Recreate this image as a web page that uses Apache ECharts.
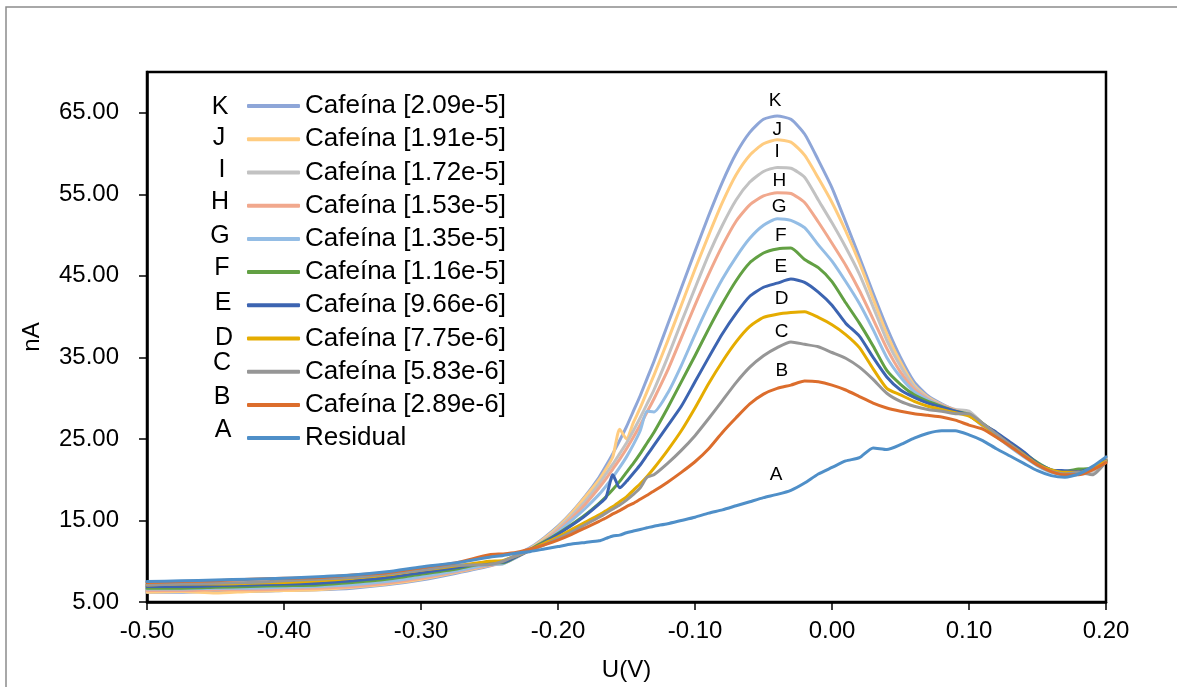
<!DOCTYPE html>
<html>
<head>
<meta charset="utf-8">
<script src="https://cdn.jsdelivr.net/npm/echarts@6/dist/echarts.min.js"></script>
<style>
html,body{margin:0;padding:0;background:#fff;}
#chart{width:1177px;height:687px;}
</style>
</head>
<body>
<div id="chart"></div>
<script>
// Shared potential axis (V)
const voltages = [-0.5,-0.475,-0.45,-0.425,-0.4,-0.375,-0.35,-0.325,-0.3,-0.275,-0.25,
  -0.24,-0.23,-0.22,-0.21,-0.2,-0.19,-0.18,-0.17,
  -0.165,-0.16,-0.155,-0.15,-0.145,-0.14,-0.135,-0.13,
  -0.12,-0.11,-0.1,-0.09,-0.08,-0.07,-0.06,-0.05,-0.04,-0.03,-0.02,-0.01,
  0,0.01,0.02,0.03,0.04,0.05,0.06,0.07,0.08,0.09,0.1,0.11,0.12,0.13,0.14,0.15,0.16,0.17,0.18,0.19,0.2];

const seriesNames = ['Cafeína [2.09e-5]','Cafeína [1.91e-5]','Cafeína [1.72e-5]','Cafeína [1.53e-5]','Cafeína [1.35e-5]','Cafeína [1.16e-5]','Cafeína [9.66e-6]','Cafeína [7.75e-6]','Cafeína [5.83e-6]','Cafeína [2.89e-6]','Residual'];
const seriesLetters = ['K','J','I','H','G','F','E','D','C','B','A'];

const valK = [6.2,6.2,6.3,6.3,6.4,6.5,6.7,7.1,7.7,8.5,9.4,
  10.0,10.8,11.7,12.9,14.3,16.0,18.0,20.3,
  21.7,23.2,24.8,26.5,28.4,30.3,32.4,34.5,
  39.0,43.5,48.0,52.4,56.5,60.0,62.6,64.2,64.6,64.2,62.4,59.2,
  55.8,51.6,47.3,42.9,38.7,35.0,32.0,30.3,29.3,28.5,27.9,26.6,25.3,24.1,22.9,21.8,21.0,20.7,20.8,21.4,22.4];
const valJ = [6.2,6.3,6.1,6.3,6.4,6.5,6.8,7.2,7.8,8.6,9.5,
  9.9,10.7,11.6,12.8,14.2,15.9,17.9,20.0,
  21.3,22.8,26.2,25.0,27.0,28.8,30.8,32.8,
  37.0,41.4,45.8,50.0,54.0,57.4,59.8,61.2,61.7,61.4,59.8,57.0,
  54.0,50.5,46.6,42.2,37.9,34.4,31.6,30.1,29.2,28.5,27.9,26.7,25.5,24.2,23.0,21.9,21.0,20.6,20.8,21.5,22.5];
const valI = [6.5,6.5,6.6,6.6,6.7,6.8,7.0,7.4,8.0,8.7,9.6,
  9.8,10.6,11.5,12.6,14.0,15.6,17.4,19.5,
  20.7,21.9,23.2,24.5,26.0,27.6,29.3,31.0,
  35.0,39.3,43.5,47.6,51.2,54.3,56.5,57.8,58.3,58.2,57.1,54.3,
  51.5,48.5,45.2,41.2,37.1,33.9,31.4,30.0,29.2,28.6,28.4,26.9,25.6,24.2,23.0,21.9,21.1,20.8,20.7,20.9,22.3];
const valH = [6.4,6.4,6.5,6.5,6.6,6.7,6.9,7.3,7.9,8.7,9.5,
  9.7,10.5,11.4,12.5,13.8,15.3,17.0,19.0,
  20.1,21.3,22.5,23.8,25.2,26.7,28.3,29.9,
  33.4,37.4,41.4,45.2,48.7,51.7,53.7,54.8,55.2,55.1,54.0,51.6,
  49.0,46.3,43.2,39.7,36.1,33.2,31.1,29.9,29.1,28.5,27.9,26.7,25.4,24.2,23.0,21.8,21.0,20.7,20.8,21.4,22.4];
const valG = [6.6,6.6,6.7,6.7,6.8,6.9,7.1,7.5,8.1,8.8,9.6,
  9.7,10.5,11.4,12.4,13.6,15.0,16.5,18.2,
  19.2,20.3,21.5,22.8,24.3,26.0,28.4,28.3,
  30.6,34.0,37.8,41.4,44.6,47.3,49.6,51.2,52.0,51.8,50.9,48.8,
  46.8,44.3,41.6,38.4,35.0,32.6,30.8,29.8,29.0,28.4,27.9,26.6,25.3,24.0,22.8,21.7,20.9,20.6,20.8,21.4,22.4];
const valF = [6.7,6.7,6.8,6.9,7.0,7.1,7.4,7.8,8.4,9.0,9.8,
  9.8,10.6,11.5,12.4,13.4,14.5,15.7,17.1,
  17.9,18.8,19.8,20.9,22.0,23.2,24.5,25.8,
  28.8,32.0,35.2,38.5,41.6,44.4,46.6,47.8,48.3,48.4,47.0,46.0,
  44.3,41.7,39.2,36.4,33.4,31.7,30.4,29.6,29.0,28.4,28.0,26.9,25.7,24.5,23.3,22.1,21.2,21.0,21.3,21.4,22.3];
const valE = [6.9,6.9,7.0,7.1,7.2,7.3,7.6,8.0,8.6,9.2,9.9,
  9.9,10.6,11.4,12.3,13.3,14.4,15.6,17.0,
  17.8,20.6,19.0,19.8,20.8,21.8,23.0,24.2,
  26.6,29.0,32.0,35.0,37.9,40.4,42.5,43.6,44.1,44.6,44.2,43.0,
  41.4,39.2,37.6,35.0,32.6,31.0,30.1,29.4,28.9,28.4,27.9,26.8,25.8,24.6,23.4,22.0,21.2,21.1,21.0,21.4,22.4];
const valD = [7.1,7.2,7.2,7.3,7.4,7.6,7.9,8.3,8.9,9.4,10.0,
  10.1,10.7,11.4,12.2,13.0,13.9,14.8,15.7,
  16.2,16.7,17.3,17.9,18.7,19.5,20.4,21.4,
  23.6,26.0,28.8,31.8,34.5,36.9,38.8,39.9,40.3,40.5,40.6,39.9,
  39.0,37.8,36.2,33.6,31.2,30.4,29.6,29.0,28.6,28.2,27.8,26.7,25.5,24.3,23.1,21.9,21.2,20.9,20.9,21.4,22.3];
const valC = [7.1,7.2,7.3,7.4,7.6,7.8,8.0,8.4,8.9,9.5,9.6,
  10.0,10.7,11.3,12.0,12.8,13.6,14.5,15.4,
  15.9,16.4,16.9,17.5,18.2,19.0,20.3,20.6,
  22.0,23.6,25.4,27.5,29.7,31.9,33.8,35.2,36.2,36.9,36.6,36.3,
  35.6,34.9,33.8,32.3,30.6,29.6,29.0,28.6,28.4,28.1,28.1,26.9,25.6,24.3,23.0,21.8,21.0,20.7,20.9,20.6,22.2];
const valB = [7.4,7.5,7.6,7.8,7.9,8.0,8.3,8.6,9.2,9.8,10.8,
  10.9,11.1,11.5,12.0,12.6,13.3,14.1,14.9,
  15.3,15.8,16.2,16.7,17.1,17.6,18.1,18.6,
  19.7,20.9,22.2,23.8,25.8,27.6,29.3,30.5,31.2,31.6,32.1,32.0,
  31.6,31.0,30.2,29.4,28.8,28.4,28.1,27.9,27.7,27.3,26.7,26.2,25.2,24.1,22.9,21.8,21.0,20.6,20.6,21.2,22.1];
const valA = [7.5,7.6,7.7,7.8,7.9,8.1,8.3,8.7,9.3,9.8,10.5,
  10.7,11.0,11.2,11.5,11.8,12.1,12.3,12.5,
  12.8,13.1,13.2,13.5,13.7,13.9,14.1,14.3,
  14.6,15.0,15.4,15.9,16.3,16.8,17.3,17.8,18.2,18.7,19.6,20.7,
  21.5,22.3,22.7,23.9,23.7,24.3,25.1,25.7,26.0,26.0,25.5,24.8,23.8,22.9,22.0,21.1,20.5,20.3,20.7,21.6,22.8];

const seriesValues = [valK,valJ,valI,valH,valG,valF,valE,valD,valC,valB,valA];

// Curve annotation letters (value coordinates: V, nA)
const peakLabelLetters = ['K','J','I','H','G','F','E','D','C','B','A'];
const peakLabelV  = [-0.0416,-0.040,-0.040,-0.0385,-0.0385,-0.0374,-0.0374,-0.0367,-0.0367,-0.0367,-0.0409];
const peakLabelNA = [66.5,62.9,60.2,56.7,53.5,49.9,46.1,42.2,38.1,33.4,20.6];

const xTicks = [-0.5,-0.4,-0.3,-0.2,-0.1,0,0.1,0.2];
const yTicks = [5,15,25,35,45,55,65];

// styles
const colors = ['#8EA6D8','#FFCC80','#C2C2C2','#F1A88D','#94BDE5','#62A043','#3C64B1','#E5AC00','#969696','#DC6D2C','#4F8FC8'];
const FONT = '"Liberation Sans", Arial, sans-serif';

const chart = echarts.init(document.getElementById('chart'), null, {renderer:'canvas'});

const lineSeries = seriesNames.map((name, s) => ({
  name: name,
  type: 'line',
  data: voltages.map((v, i) => [v, seriesValues[s][i]]),
  showSymbol: false,
  symbol: 'none',
  smooth: 0.2,
  lineStyle: {color: colors[s], width: 3, cap: 'round', join: 'round'},
  itemStyle: {color: colors[s]},
  emphasis: {disabled: true},
  animation: false
}));

const labelSeries = {
  name: 'peakLabels',
  type: 'custom',
  silent: true,
  data: peakLabelV.map((v, i) => [v, peakLabelNA[i], i]),
  renderItem: (params, api) => {
    const p = api.coord([api.value(0), api.value(1)]);
    return {
      type: 'text',
      x: p[0], y: p[1],
      style: {text: peakLabelLetters[api.value(2)], fill: '#000', font: '19px ' + FONT, align: 'center', verticalAlign: 'middle'}
    };
  },
  animation: false,
  z: 5
};

// legend letter positions (pixels, annotation only)
const legendLetterX = [220,219,222,220,220,222,223,224,222,222,223];
const legendLetterY = [107,138,170,202,236,268,303,338,363,397,430];

chart.setOption({
  backgroundColor: '#fff',
  animation: false,
  textStyle: {fontFamily: FONT},
  grid: {left: 147, right: 71, top: 72, bottom: 84, show: true, borderColor: '#000', borderWidth: 2.5, backgroundColor: 'transparent'},
  legend: {
    data: seriesNames,
    orient: 'vertical',
    left: 247,
    top: 92,
    padding: 0,
    itemWidth: 53,
    itemHeight: 4,
    itemGap: 5,
    icon: 'roundRect',
    textStyle: {fontSize: 26, color: '#000', fontFamily: FONT, lineHeight: 28.2},
    selectedMode: false
  },
  xAxis: {
    type: 'value',
    min: -0.5,
    max: 0.2,
    interval: 0.1,
    name: 'U(V)',
    nameLocation: 'middle',
    nameGap: 56,
    nameTextStyle: {fontSize: 24, color: '#000', fontFamily: FONT},
    axisLine: {show: true, onZero: false, lineStyle: {color: '#000', width: 2.5}},
    axisTick: {show: true, inside: false, length: 8, lineStyle: {color: '#000', width: 1.5}},
    axisLabel: {color: '#000', fontSize: 24, fontFamily: FONT, margin: 17, formatter: v => v.toFixed(2)},
    splitLine: {show: false}
  },
  yAxis: {
    type: 'value',
    min: 5,
    max: 70,
    name: 'nA',
    nameLocation: 'middle',
    nameGap: 103,
    nameRotate: 90,
    nameTextStyle: {fontSize: 24, color: '#000', fontFamily: FONT},
    axisLine: {show: true, onZero: false, lineStyle: {color: '#000', width: 2.5}},
    axisTick: {show: true, inside: false, length: 8, customValues: yTicks, lineStyle: {color: '#000', width: 1.5}},
    axisLabel: {color: '#000', fontSize: 24, fontFamily: FONT, margin: 28, customValues: yTicks, formatter: v => v.toFixed(2)},
    splitLine: {show: false}
  },
  graphic: [
    {type: 'rect', silent: true, shape: {x: 6, y: 7, width: 1300, height: 800}, style: {fill: 'none', stroke: '#8c8c8c', lineWidth: 1.5}, z: -10}
  ].concat(seriesLetters.map((L, i) => ({
    type: 'text', silent: true, x: legendLetterX[i], y: legendLetterY[i],
    style: {text: L, fill: '#000', font: '25px ' + FONT, textAlign: 'center', textVerticalAlign: 'middle'}
  }))),
  series: lineSeries.concat([labelSeries])
});
</script>
</body>
</html>
